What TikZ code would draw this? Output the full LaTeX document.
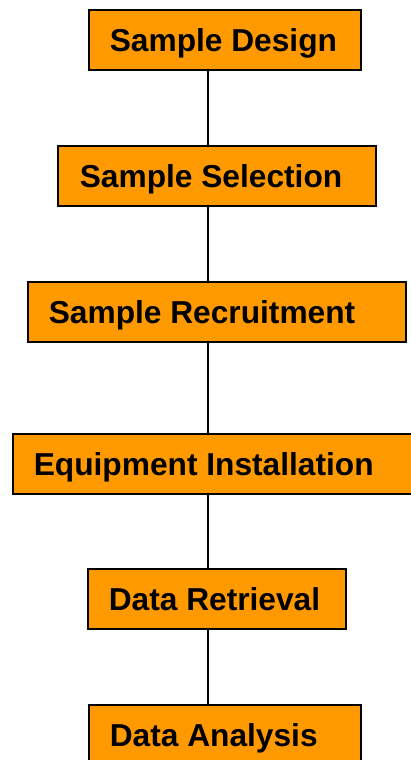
\documentclass[tikz,border=0pt]{standalone}
\usepackage{fontspec}
\setmainfont{Liberation Sans}
\definecolor{boxorange}{HTML}{FF9900}
\begin{document}
\begin{tikzpicture}[x=1pt,y=-1pt,
  stepbox/.style={draw=black, line width=1.6pt, fill=boxorange, rectangle, anchor=north west,
    minimum height=60pt, inner xsep=0pt, inner ysep=0pt,
    font=\fontsize{31.7}{33}\selectfont\bfseries, text height=22.7pt, text depth=0pt},
  conn/.style={draw=black, line width=1.2pt}]
\useasboundingbox (0,0) rectangle (411,760);
\coordinate (axis) at (208,0);
\node[stepbox, minimum width=272pt] (b1) at (88,9) {\makebox[272pt][l]{\hspace{21pt}Sample Design}};
\node[stepbox, minimum width=318pt] (b2) at (57,145) {\makebox[318pt][l]{\hspace{22pt}Sample Selection}};
\node[stepbox, minimum width=378pt] (b3) at (27,281) {\makebox[378pt][l]{\hspace{21pt}Sample Recruitment}};
\node[stepbox, minimum width=402pt] (b4) at (12,433) {\makebox[402pt][l]{\hspace{21pt}Equipment Installation}};
\node[stepbox, minimum width=258pt] (b5) at (87,568) {\makebox[258pt][l]{\hspace{21pt}Data Retrieval}};
\node[stepbox, minimum width=272pt] (b6) at (88,704) {\makebox[272pt][l]{\hspace{21pt}Data Analysis}};
\draw[conn] (b1.south -| axis) -- (b2.north -| axis);
\draw[conn] (b2.south -| axis) -- (b3.north -| axis);
\draw[conn] (b3.south -| axis) -- (b4.north -| axis);
\draw[conn] (b4.south -| axis) -- (b5.north -| axis);
\draw[conn] (b5.south -| axis) -- (b6.north -| axis);
\end{tikzpicture}
\end{document}
